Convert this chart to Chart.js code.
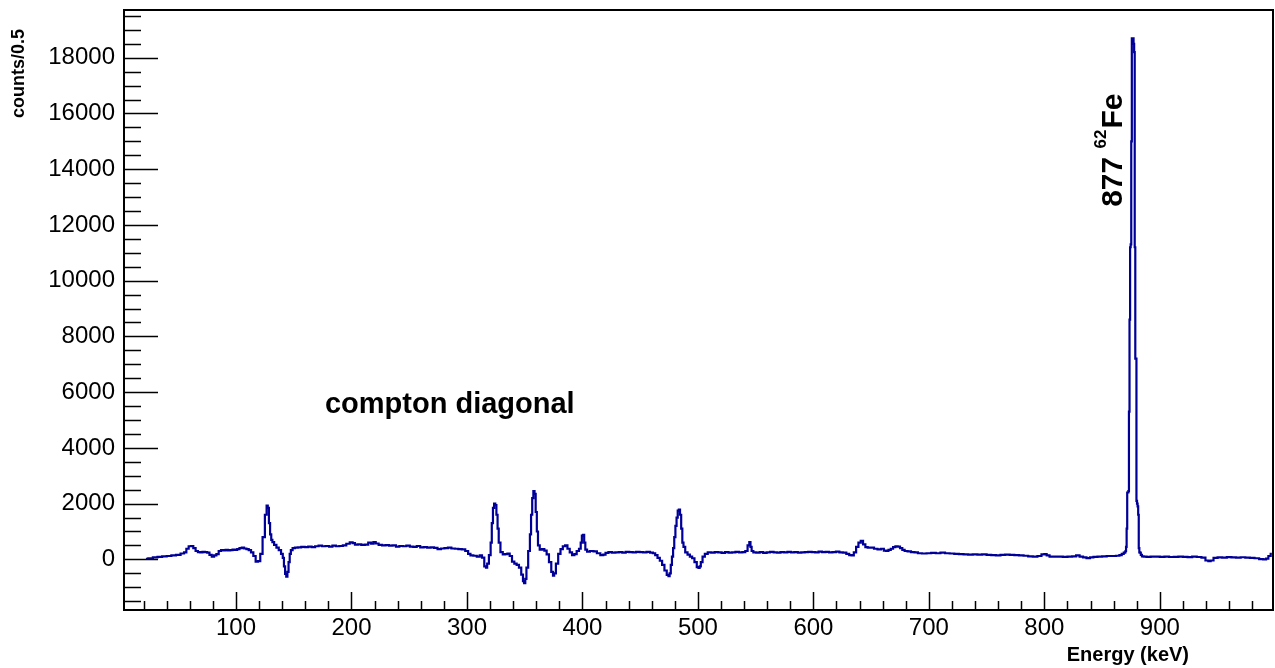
<!DOCTYPE html>
<html>
<head>
<meta charset="utf-8">
<title>Energy spectrum</title>
<script src="https://cdn.jsdelivr.net/npm/chart.js@4.4.1/dist/chart.umd.min.js"></script>
<style>
  html, body { margin: 0; padding: 0; background: #fff; }
  #wrap { width: 1275px; height: 668px; position: relative; }
</style>
</head>
<body>
<div id="wrap"><canvas id="spectrum"></canvas></div>
<script>
// bin centres (keV) and counts per 0.5 keV, one row per ten bins
const energyKeV = [
  22, 26, 30, 34, 38, 42, 46, 50, 54, 56,
  58, 60, 62, 64, 66, 68, 70, 72, 74, 76,
  78, 80, 82, 84, 86, 88, 90, 92, 94, 96,
  98, 100, 102, 104, 106, 108, 110, 112, 114, 116,
  118, 120, 122, 124, 126, 127, 128, 129, 130, 131,
  132, 134, 136, 138, 140, 141, 142, 143, 144, 145,
  146, 147, 148, 150, 152, 155, 158, 161, 164, 167,
  170, 173, 176, 179, 182, 185, 188, 191, 194, 197,
  200, 202, 204, 207, 210, 213, 216, 218, 220, 222,
  225, 228, 231, 234, 237, 240, 243, 246, 249, 252,
  255, 258, 261, 264, 267, 270, 273, 276, 279, 282,
  285, 288, 291, 294, 297, 300, 302, 304, 307, 310,
  312, 314, 316, 317, 318, 320, 321, 322, 323, 324,
  325, 326, 327, 328, 330, 332, 334, 336, 338, 340,
  342, 344, 346, 348, 349, 350, 351, 352, 354, 355,
  356, 357, 358, 359, 360, 361, 362, 364, 366, 368,
  370, 372, 374, 375, 376, 378, 380, 382, 384, 386,
  388, 390, 392, 394, 396, 398, 399, 400, 401, 402,
  403, 405, 408, 411, 414, 417, 419, 421, 424, 427,
  430, 433, 436, 439, 442, 445, 448, 451, 454, 457,
  460, 462, 464, 466, 468, 470, 472, 474, 475, 476,
  477, 478, 479, 480, 481, 482, 483, 484, 485, 486,
  487, 488, 490, 492, 494, 496, 498, 500, 501, 502,
  503, 505, 507, 510, 513, 516, 519, 522, 525, 528,
  531, 534, 537, 540, 542, 544, 545, 546, 547, 549,
  552, 555, 558, 561, 564, 567, 570, 573, 576, 579,
  582, 585, 588, 591, 594, 597, 600, 603, 606, 609,
  612, 615, 618, 621, 624, 627, 630, 632, 634, 636,
  638, 640, 642, 644, 646, 648, 651, 654, 657, 660,
  662, 664, 666, 668, 670, 672, 674, 676, 678, 680,
  683, 686, 689, 692, 696, 700, 704, 708, 712, 716,
  720, 724, 728, 732, 736, 740, 744, 748, 752, 756,
  760, 764, 768, 772, 776, 780, 784, 788, 792, 796,
  799, 801, 803, 806, 810, 814, 818, 822, 826, 829,
  832, 835, 838, 841, 844, 848, 852, 856, 860, 864,
  866, 868, 869.5, 870, 870.5, 871, 871.5, 872, 872.5, 873,
  873.5, 874, 874.5, 875, 875.5, 876, 876.5, 877, 877.5, 878,
  878.5, 879, 879.5, 880, 880.5, 881, 881.5, 882, 882.5, 883,
  884, 885, 887, 890, 894, 898, 902, 906, 910, 914,
  918, 922, 926, 930, 934, 938, 941, 943, 945, 948,
  952, 956, 960, 964, 968, 972, 976, 980, 984, 988,
  991, 993, 995, 997
];

const counts = [
  20, 40, 70, 90, 110, 120, 140, 160, 210, 250,
  380, 470, 480, 400, 300, 260, 250, 270, 260, 240,
  160, 100, 140, 190, 300, 330, 320, 340, 320, 330,
  350, 340, 370, 400, 420, 390, 370, 330, 250, 120,
  -80, -60, 200, 800, 1600, 1930, 1850, 1300, 900, 700,
  620, 520, 420, 330, 200, 50, -250, -520, -620, -450,
  -100, 200, 330, 400, 420, 430, 450, 440, 460, 440,
  470, 490, 470, 480, 460, 490, 470, 480, 500, 560,
  610, 580, 530, 540, 520, 530, 600, 560, 620, 570,
  520, 500, 510, 490, 500, 460, 480, 470, 490, 460,
  450, 480, 430, 440, 420, 430, 410, 370, 390, 400,
  420, 390, 380, 370, 360, 300, 200, 140, 130, 100,
  140, 60, -250, -300, -150, 150, 600, 1300, 1850, 2000,
  1950, 1600, 1100, 600, 260, 180, 190, 210, 120, -80,
  -150, -200, -300, -550, -780, -850, -700, -300, 300, 900,
  1600, 2200, 2450, 2350, 1700, 1000, 500, 350, 370, 310,
  180, -100, -450, -580, -500, -150, 200, 370, 470, 500,
  380, 250, 150, 190, 300, 380, 600, 850, 880, 600,
  350, 280, 300, 290, 220, 150, 170, 230, 260, 240,
  250, 260, 240, 270, 260, 250, 270, 260, 250, 270,
  240, 220, 150, 50, -50, -200, -400, -560, -600, -500,
  -200, 100, 400, 800, 1200, 1500, 1750, 1790, 1600, 1100,
  600, 450, 250, 170, 100, 40, -100, -280, -310, -250,
  -100, 100, 200, 250, 240, 260, 250, 230, 260, 240,
  250, 270, 250, 260, 300, 500, 620, 450, 300, 250,
  240, 260, 230, 250, 270, 250, 240, 260, 250, 270,
  250, 260, 240, 250, 260, 270, 260, 250, 280, 260,
  270, 250, 260, 280, 250, 240, 200, 150, 140, 250,
  450, 600, 660, 540, 440, 420, 420, 380, 360, 380,
  310, 300, 340, 380, 440, 470, 460, 400, 340, 300,
  290, 260, 250, 220, 210, 220, 230, 220, 240, 220,
  210, 200, 190, 180, 170, 180, 170, 180, 160, 150,
  140, 160, 170, 160, 150, 140, 130, 110, 100, 120,
  180, 190, 140, 100, 95, 100, 90, 95, 110, 140,
  100, 70, 45, 70, 90, 95, 110, 120, 120, 130,
  150, 200, 240, 250, 300, 450, 1100, 2400, 2400, 2450,
  5300, 8600, 11200, 11300, 15000, 18700, 18600, 18700, 18500, 18200,
  11200, 7200, 7200, 2100, 2000, 1900, 1600, 400, 250, 240,
  160, 110, 95, 90, 100, 95, 90, 100, 85, 90,
  100, 90, 80, 95, 85, 60, -40, -60, -40, 50,
  70, 60, 80, 70, 60, 75, 60, 50, 40, 10,
  0, 30, 120, 200
];

const xRange = [3, 998];
const yRange = [-1817, 19713];
const xTickLabels = [100, 200, 300, 400, 500, 600, 700, 800, 900];
const yTickLabels = [0, 2000, 4000, 6000, 8000, 10000, 12000, 14000, 16000, 18000];
const xMinor = 20, yMinor = 500;

// text annotations, anchored in data coordinates
const comptonLabel = { text: 'compton diagonal', x: 177, y: 5250 };
const peakLabel = { energy: '877', nucleus: 'Fe', mass: '62', x: 867, y: 12650 };

const FONT = '"Liberation Sans", Arial, Helvetica, sans-serif';
const lineBlue = '#000099';

// ROOT-like frame: box, inward ticks, axis titles and annotations
const rootFrame = {
    id: 'rootFrame',
    afterDraw(chart) {
        const { ctx, chartArea: a, scales: { x, y } } = chart;
        ctx.save();
        ctx.strokeStyle = '#000';
        ctx.lineWidth = 1.5;
        ctx.beginPath();
        for (let v = Math.ceil(yRange[0] / yMinor) * yMinor; v <= yRange[1]; v += yMinor) {
            const py = Math.round(y.getPixelForValue(v)) + 0.5;
            const len = yTickLabels.includes(v) ? 34 : 17;
            ctx.moveTo(a.left, py);
            ctx.lineTo(a.left + len, py);
        }
        for (let v = Math.ceil(xRange[0] / xMinor) * xMinor; v <= xRange[1]; v += xMinor) {
            const px = Math.round(x.getPixelForValue(v)) + 0.5;
            const len = xTickLabels.includes(v) ? 18 : 9;
            ctx.moveTo(px, a.bottom);
            ctx.lineTo(px, a.bottom - len);
        }
        ctx.stroke();

        ctx.lineWidth = 2;
        ctx.strokeRect(a.left, a.top, a.right - a.left, a.bottom - a.top);

        ctx.fillStyle = '#000';
        ctx.textBaseline = 'alphabetic';

        // axis titles
        ctx.font = 'bold 20px ' + FONT;
        ctx.textAlign = 'right';
        ctx.fillText('Energy (keV)', 1189, 661);

        ctx.save();
        ctx.translate(24, 118);
        ctx.rotate(-Math.PI / 2);
        ctx.font = 'bold 18px ' + FONT;
        ctx.textAlign = 'left';
        ctx.fillText('counts/0.5', 0, 0);
        ctx.restore();

        // compton diagonal note
        ctx.font = 'bold 29px ' + FONT;
        ctx.textAlign = 'left';
        ctx.fillText(comptonLabel.text, x.getPixelForValue(comptonLabel.x), y.getPixelForValue(comptonLabel.y));

        // peak label, rotated, with superscript mass number
        ctx.save();
        ctx.translate(x.getPixelForValue(peakLabel.x), y.getPixelForValue(peakLabel.y));
        ctx.rotate(-Math.PI / 2);
        ctx.textAlign = 'left';
        ctx.font = 'bold 30px ' + FONT;
        const head = peakLabel.energy + ' ';
        let cx = 0;
        ctx.fillText(head, cx, 0);
        cx += ctx.measureText(head).width;
        ctx.font = 'bold 17px ' + FONT;
        ctx.fillText(peakLabel.mass, cx, -16);
        cx += ctx.measureText(peakLabel.mass).width + 1;
        ctx.font = 'bold 30px ' + FONT;
        ctx.fillText(peakLabel.nucleus, cx, 0);
        ctx.restore();

        ctx.restore();
    }
};

const points = energyKeV.map((e, i) => ({ x: e, y: counts[i] }));

new Chart(document.getElementById('spectrum'), {
    type: 'line',
    data: {
        datasets: [{
            label: 'counts',
            data: points,
            stepped: 'middle',
            borderColor: lineBlue,
            borderWidth: 2.2,
            pointRadius: 0,
            fill: false,
        }],
    },
    options: {
        responsive: true,
        maintainAspectRatio: false,
        animation: false,
        events: [],
        layout: { padding: { top: 10, right: 2, left: 0, bottom: 0 } },
        plugins: {
            legend: { display: false },
            tooltip: { enabled: false },
        },
        scales: {
            x: {
                type: 'linear',
                min: xRange[0],
                max: xRange[1],
                grid: { display: false, drawTicks: false },
                border: { display: false },
                afterBuildTicks: (s) => { s.ticks = xTickLabels.map((v) => ({ value: v })); },
                ticks: {
                    autoSkip: false,
                    maxRotation: 0,
                    padding: 4,
                    color: '#000',
                    font: { family: FONT, size: 24 },
                    callback: (v) => String(v),
                },
                afterFit: (s) => {
                    s.height = 58;
                    s.paddingLeft = 0;
                    s.paddingRight = 0;
                },
            },
            y: {
                min: yRange[0],
                max: yRange[1],
                grid: { display: false, drawTicks: false },
                border: { display: false },
                afterBuildTicks: (s) => { s.ticks = yTickLabels.map((v) => ({ value: v })); },
                ticks: {
                    autoSkip: false,
                    padding: 9,
                    color: '#000',
                    font: { family: FONT, size: 24 },
                    callback: (v) => String(v),
                },
                afterFit: (s) => {
                    s.width = 124;
                    s.paddingTop = 0;
                    s.paddingBottom = 0;
                },
            },
        },
    },
    plugins: [rootFrame],
});
</script>
</body>
</html>
